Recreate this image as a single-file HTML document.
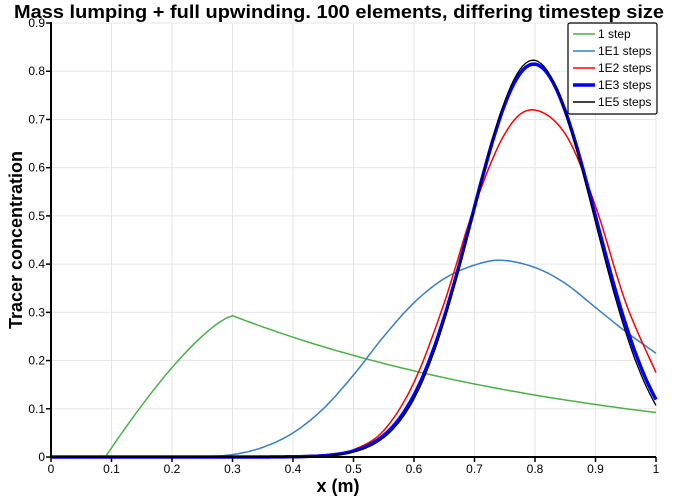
<!DOCTYPE html>
<html><head><meta charset="utf-8"><style>
html,body{margin:0;padding:0;background:#fff;}
svg{display:block;font-family:"Liberation Sans",sans-serif;}
</style></head><body>
<svg id="s" width="676" height="504" viewBox="0 0 676 504" xmlns="http://www.w3.org/2000/svg">
<rect width="676" height="504" fill="#fff"/>
<g id="grid" stroke="#e6e6e6" stroke-width="1"></g>
<g id="curves" fill="none" stroke-linejoin="round"></g>
<g id="axes"></g>
<text x="339" y="18" text-anchor="middle" font-size="18" font-weight="bold" textLength="650" lengthAdjust="spacingAndGlyphs">Mass lumping + full upwinding.  100 elements, differing timestep size</text>
<text x="338" y="492" text-anchor="middle" font-size="18" font-weight="bold">x (m)</text>
<text transform="translate(22,240) rotate(-90)" text-anchor="middle" font-size="18" font-weight="bold">Tracer concentration</text>
<g>
<rect x="568" y="23" width="89" height="91" fill="#fff" stroke="#000" stroke-width="1.2" rx="2"/>
<line x1="573" y1="34" x2="595" y2="34" stroke="#4daf4a" stroke-width="1.5"/>
<line x1="573" y1="51" x2="595" y2="51" stroke="#3a7fc0" stroke-width="1.5"/>
<line x1="573" y1="68" x2="595" y2="68" stroke="#ff0000" stroke-width="1.5"/>
<line x1="573" y1="85" x2="595" y2="85" stroke="#0000ff" stroke-width="3.5"/>
<line x1="573" y1="102" x2="595" y2="102" stroke="#000" stroke-width="1.5"/>
<g font-size="12"><text x="598" y="38">1 step</text><text x="598" y="55">1E1 steps</text><text x="598" y="72">1E2 steps</text><text x="598" y="89">1E3 steps</text><text x="598" y="106">1E5 steps</text></g>
</g>
</svg>
<script>
const X=v=>51+v*605, Y=v=>457-v*482.2;
const ns="http://www.w3.org/2000/svg";
function el(p,t,a){const e=document.createElementNS(ns,t);for(const k in a)e.setAttribute(k,a[k]);p.appendChild(e);return e;}
const g=document.getElementById('grid'),ax=document.getElementById('axes'),cv=document.getElementById('curves');
for(let i=1;i<=10;i++)el(g,'line',{x1:X(i/10),x2:X(i/10),y1:Y(0),y2:Y(0.9)});
for(let i=1;i<=9;i++)el(g,'line',{x1:X(0),x2:X(1),y1:Y(i/10),y2:Y(i/10)});
function pth(pts,c,w){el(cv,'path',{d:'M'+pts.map(p=>X(p[0]).toFixed(1)+','+Y(p[1]).toFixed(1)).join('L'),stroke:c,'stroke-width':w});}
function spline(k){const pts=[];for(let i=0;i<k.length-1;i++){const p0=k[Math.max(0,i-1)],p1=k[i],p2=k[i+1],p3=k[Math.min(k.length-1,i+2)];for(let j=0;j<10;j++){const t=j/10,t2=t*t,t3=t2*t;const f=(a,b,c,d)=>0.5*(2*b+(-a+c)*t+(2*a-5*b+4*c-d)*t2+(-a+3*b-3*c+d)*t3);pts.push([f(p0[0],p1[0],p2[0],p3[0]),f(p0[1],p1[1],p2[1],p3[1])]);}}pts.push(k[k.length-1]);return pts;}
// green
let gp=[[0,0],[0.09,0]];
for(let i=1;i<=21;i++){const x=0.09+i*0.01;const t=Math.min(1,Math.max(0,(x-0.09)/0.21));gp.push([x,0.293*(1-Math.pow(1-t,1.35))]);}
for(let i=1;i<=70;i++){const x=0.3+i*0.01;gp.push([x,0.293*Math.exp(-(x-0.3)*1.65)]);}
pth(gp,'#4daf4a',1.5);
pth(spline([[0,0],[0.1,0],[0.2,0],[0.25,0.001],[0.3,0.005],[0.35,0.02],[0.4,0.05],[0.45,0.1],[0.5,0.17],[0.55,0.25],[0.6,0.32],[0.65,0.37],[0.7,0.398],[0.745,0.408],[0.8,0.393],[0.85,0.36],[0.9,0.31],[0.95,0.26],[1.0,0.215]]),'#3a7fc0',1.5);
pth(spline([[0,0],[0.4,0],[0.45,0.002],[0.5,0.015],[0.55,0.055],[0.6,0.155],[0.65,0.32],[0.7,0.52],[0.75,0.67],[0.795,0.72],[0.85,0.67],[0.9,0.52],[0.95,0.32],[1.0,0.175]]),'#ff0000',1.5);
function gauss(a,m,s){const p=[];for(let i=0;i<=200;i++){const x=i/200;p.push([x,a*Math.exp(-(x-m)*(x-m)/(2*s*s))]);}return p;}
pth(gauss(0.815,0.798,0.103),'#0000ff',3.5);
pth(gauss(0.823,0.797,0.1005),'#000',1.3);
el(ax,'line',{x1:X(0),x2:X(0),y1:Y(0.9)-1,y2:Y(0)+1,stroke:'#000','stroke-width':2});
el(ax,'line',{x1:X(0)-1,x2:X(1),y1:Y(0),y2:Y(0),stroke:'#000','stroke-width':2});
for(let i=0;i<=10;i++){el(ax,'line',{x1:X(i/10),x2:X(i/10),y1:Y(0),y2:Y(0)+5,stroke:'#000','stroke-width':1.5});const t=el(ax,'text',{x:X(i/10),y:473,'text-anchor':'middle','font-size':12});t.textContent=i==0?'0':i==10?'1':(i/10).toFixed(1);}
for(let i=0;i<=9;i++){el(ax,'line',{x1:X(0)-5,x2:X(0),y1:Y(i/10),y2:Y(i/10),stroke:'#000','stroke-width':1.5});const t=el(ax,'text',{x:X(0)-6,y:Y(i/10)+4,'text-anchor':'end','font-size':12});t.textContent=i==0?'0':(i/10).toFixed(1);}
</script>
</body></html>
